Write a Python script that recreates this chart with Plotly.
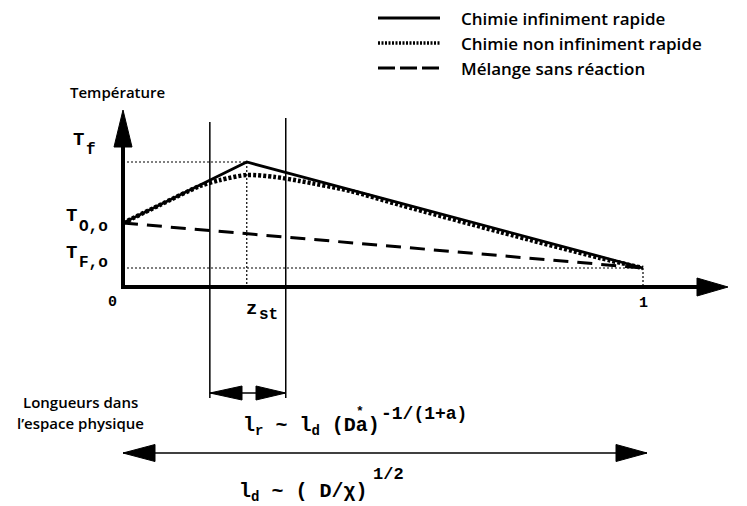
import plotly.graph_objects as go

# ---------------- data (schematic) ----------------
z_st = 0.238
T_O0, T_f, T_F0 = 0.64, 1.25, 0.19

solid_z = [0.0, z_st, 1.0]
solid_T = [T_O0, T_f, T_F0]

dotted_z = [0.0, 0.071, 0.148, 0.187, 0.238, 0.292, 0.340, 0.437, 0.533, 0.725, 0.917, 1.0]
dotted_T = [0.64, 0.82, 1.01, 1.07, 1.12, 1.10, 1.06, 0.96, 0.82, 0.55, 0.29, 0.19]

dashed_z = [0.0, 1.0]
dashed_T = [T_O0, T_F0]

zone_z = [0.167, 0.313]          # reaction zone limits
legend_names = ["Chimie infiniment rapide", "Chimie non infiniment rapide", "Mélange sans réaction"]

# ---------------- helpers: picture pixels -> chart units ----------------
X0, XS = 123.0, 520.0            # pixel of z=0, pixels per unit z
Y0, YS = 287.0, 100.0            # pixel of T=0, pixels per unit T
def zx(p): return (p - X0) / XS
def ty(p): return (Y0 - p) / YS

W, H = 747, 506
OFF = 8                          # page body margin
MONO = "Liberation Mono, Courier New, monospace"
SANS = "Open Sans, Noto Sans, sans-serif"

fig = go.Figure()

def line(xs, ys, width=1.5, dash="solid", color="black"):
    fig.add_trace(go.Scatter(x=xs, y=ys, mode="lines", showlegend=False, hoverinfo="skip",
                             line=dict(color=color, width=width, dash=dash)))

def tri(xs, ys):
    fig.add_trace(go.Scatter(x=xs + [xs[0]], y=ys + [ys[0]], mode="lines", fill="toself",
                             fillcolor="black", showlegend=False, hoverinfo="skip",
                             line=dict(color="black", width=1)))

# thin dotted guide lines
line([0, z_st], [T_f, T_f], 1.2, "2px,2px")
line([z_st, z_st], [T_f, 0], 1.2, "2px,2px")
line([0, 1], [T_F0, T_F0], 1.2, "2px,2px")
line([1, 1], [T_F0, 0], 1.2, "2px,2px")

# reaction zone vertical lines
line([zone_z[0], zone_z[0]], [ty(122), ty(398)], 1.5)
line([zone_z[1], zone_z[1]], [ty(118), ty(398)], 1.5)

# curves
line(dashed_z, dashed_T, 3, "15px,9px")
fig.add_trace(go.Scatter(x=dotted_z, y=dotted_T, mode="lines", showlegend=False, hoverinfo="skip",
                         line=dict(color="black", width=4.5, dash="3px,2px", shape="spline", smoothing=0.8)))
line(solid_z, solid_T, 2.8)

# axes with arrows
line([zx(121), zx(698)], [0, 0], 4)
tri([zx(697), zx(697), zx(728)], [ty(278), ty(296), 0])
line([0, 0], [ty(289), ty(146)], 4)
tri([zx(114), zx(132), 0], [ty(147), ty(147), ty(110)])

# small double arrow (reaction length)
ya = ty(393)
line([zone_z[0], zone_z[1]], [ya, ya], 1.5)
tri([zone_z[0], zx(242), zx(242)], [ya, ya + 0.07, ya - 0.07])
tri([zone_z[1], zx(256), zx(256)], [ya, ya + 0.07, ya - 0.07])

# long double arrow (diffusion length)
yb = ty(453)
line([0, zx(647)], [yb, yb], 1.5)
tri([0, zx(155), zx(155)], [yb, yb + 0.085, yb - 0.085])
tri([zx(647), zx(616), zx(616)], [yb, yb + 0.085, yb - 0.085])

# legend (drawn)
ly = [ty(18), ty(43), ty(68)]
line([zx(378), zx(440)], [ly[0], ly[0]], 2.8)
line([zx(378), zx(440)], [ly[1], ly[1]], 3.5, "2px,1.5px")
line([zx(378), zx(440)], [ly[2], ly[2]], 3, "17px,5px")

anns = []
def txt(x, y, s, size, family=SANS, xanchor="center", weight="bold"):
    anns.append(dict(x=x, y=y, xref="x", yref="y", text=s, showarrow=False, xanchor=xanchor,
                     yanchor="middle", font=dict(family=family, size=size, color="black", weight=weight)))

for yy, nm in zip(ly, legend_names):
    txt(zx(459), yy, nm, 17, xanchor="left", weight=600)

txt(zx(117), ty(92), "Température", 15, weight=600)
txt(zx(80), ty(402), "Longueurs dans", 15, weight=600)
txt(zx(80), ty(423), "l’espace physique", 15, weight=600)

# axis labels (main letter + lowered index)
txt(zx(78), ty(140), "T", 19, MONO)
txt(zx(84), ty(150), "f", 16, MONO, "left")
txt(zx(71), ty(216), "T", 19, MONO)
txt(zx(77), ty(227), "O,o", 16, MONO, "left")
txt(zx(71), ty(253), "T", 19, MONO)
txt(zx(77), ty(263), "F,o", 16, MONO, "left")
txt(zx(112), ty(302), "0", 15, MONO)
txt(zx(643), ty(303), "1", 15, MONO)
txt(zx(251), ty(309), "z", 19, MONO)
txt(zx(257), ty(315), "st", 16, MONO, "left")
txt(zx(741), ty(311), "z", 19, MONO, "left")

# length formulas
txt(zx(241), ty(426), "l<sub>r</sub> ~ l<sub>d</sub> (Da)", 20, MONO, "left")
txt(zx(360), ty(411), "*", 13, MONO)
txt(zx(379), ty(414), "-1/(1+a)", 18, MONO, "left")
txt(zx(237), ty(492), "l<sub>d</sub> ~ ( D/χ)", 20, MONO, "left")
txt(zx(371), ty(474), "1/2", 17, MONO, "left")

fig.update_layout(
    width=W - OFF, height=H - OFF, margin=dict(l=0, r=0, t=0, b=0),
    paper_bgcolor="white", plot_bgcolor="white", annotations=anns,
    xaxis=dict(range=[zx(OFF), zx(W)], visible=False, fixedrange=True),
    yaxis=dict(range=[ty(H), ty(OFF)], visible=False, fixedrange=True),
)
fig.write_html("out.html")
